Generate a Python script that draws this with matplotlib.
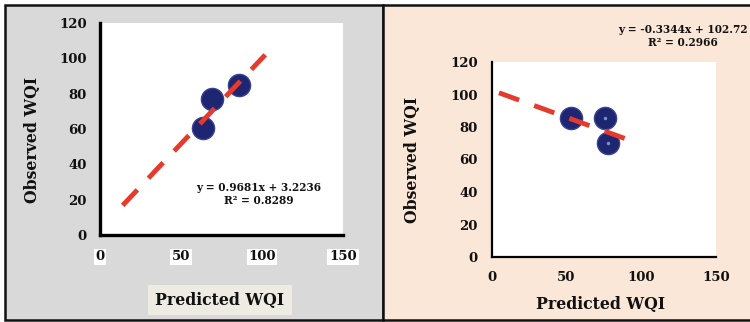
import matplotlib
matplotlib.use("Agg")
import matplotlib.pyplot as plt
from matplotlib.patches import Rectangle
import numpy as np

# ---- data ----
pred_a = [63.4, 69.3, 85.8]
obs_a = [60.7, 76.8, 84.9]
slope_a, icpt_a = 0.9681, 3.2236
trend_a_x = [14, 102]
eq_a = "y = 0.9681x + 3.2236\nR\u00b2 = 0.8289"

pred_b = [52.8, 76.0, 77.8]
obs_b = [85.4, 85.4, 70.3]
slope_b, icpt_b = -0.3344, 102.72
trend_b_x = [5, 91]
eq_b = "y = -0.3344x + 102.72\nR\u00b2 = 0.2966"

xticks = [0, 50, 100, 150]
yticks = [0, 20, 40, 60, 80, 100, 120]
xlabel = "Predicted WQI"
ylabel = "Observed WQI"

W, H = 750, 322
FONT = "DejaVu Serif"
navy = "#1e2672"
red = "#e53a2c"

fig = plt.figure(figsize=(W / 100, H / 100), dpi=100)
fig.patch.set_facecolor("white")

def fx(x):
    return x / W

def fy(y):
    return 1 - y / H

# panel backgrounds
fig.patches.append(Rectangle((fx(5), fy(320)), fx(383) - fx(5), fy(5) - fy(320),
                             transform=fig.transFigure, facecolor="#d9d9d9",
                             edgecolor="#111111", lw=1.8, zorder=-10))
fig.patches.append(Rectangle((fx(383), fy(320)), fx(760) - fx(383), fy(5) - fy(320),
                             transform=fig.transFigure, facecolor="#fbe7d8",
                             edgecolor="#111111", lw=1.8, zorder=-10))
# xlabel box in left panel
fig.patches.append(Rectangle((fx(148), fy(315)), fx(292) - fx(148), fy(285) - fy(315),
                             transform=fig.transFigure, facecolor="#eeece2",
                             edgecolor="none", zorder=-5))

def setup(ax, spine_lw, xpad, ypad, boxed):
    ax.set_facecolor("white")
    ax.set_xlim(0, 150)
    ax.set_ylim(0, 120)
    ax.set_xticks(xticks)
    ax.set_yticks(yticks)
    for s in ["top", "right"]:
        ax.spines[s].set_visible(False)
    for s in ["left", "bottom"]:
        ax.spines[s].set_linewidth(spine_lw)
        ax.spines[s].set_color("black")
    ax.tick_params(axis="x", length=0, pad=xpad)
    ax.tick_params(axis="y", length=0, pad=ypad)
    for lab in ax.get_xticklabels() + ax.get_yticklabels():
        lab.set_fontfamily(FONT)
        lab.set_fontweight("bold")
        lab.set_fontsize(9.5)
        lab.set_color("#111111")
    if boxed:
        for lab in ax.get_xticklabels():
            lab.set_bbox(dict(facecolor="white", edgecolor="none", pad=1.2))

DASH = (0, (4.4, 3.3))
MS = 255

ax1 = fig.add_axes([fx(100), fy(235), fx(343) - fx(100), fy(23) - fy(235)])
setup(ax1, 2.4, 11, 9.5, True)
ax1.scatter(pred_a, obs_a, s=MS, color=navy, edgecolors="#3a4390", linewidths=1.0, zorder=2)
tx = np.array(trend_a_x, dtype=float)
ax1.plot(tx, slope_a * tx + icpt_a, color=red, lw=3.5, linestyle=DASH,
         solid_capstyle="butt", dash_capstyle="butt", zorder=3)

ax2 = fig.add_axes([fx(491.5), fy(257), fx(716) - fx(491.5), fy(62) - fy(257)])
setup(ax2, 1.6, 10, 10, False)
ax2.scatter(pred_b, obs_b, s=MS, color=navy, edgecolors="#3a4390", linewidths=1.0, zorder=2)
ax2.scatter(pred_b, obs_b, s=6, color="#6d9ad0", linewidths=0, zorder=2.5)
tx = np.array(trend_b_x, dtype=float)
ax2.plot(tx, slope_b * tx + icpt_b, color=red, lw=3.5, linestyle=DASH,
         solid_capstyle="butt", dash_capstyle="butt", zorder=3)

lab_kw = dict(fontfamily=FONT, fontweight="bold", fontsize=11.3, color="#111111")
# axis labels
fig.text(fx(32), fy(139.5), ylabel, rotation=90, ha="center", va="center", **lab_kw)
fig.text(fx(413), fy(160), ylabel, rotation=90, ha="center", va="center", **lab_kw)
fig.text(fx(220), fy(300), xlabel, ha="center", va="center", zorder=2, **lab_kw)
fig.text(fx(600.5), fy(305), xlabel, ha="center", va="center", **lab_kw)

eq_kw = dict(fontfamily=FONT, fontweight="bold", fontsize=7.6, color="#111111",
             ha="center", va="center", multialignment="center", linespacing=1.15)
fig.text(fx(259), fy(194), eq_a, **eq_kw)
fig.text(fx(683), fy(36), eq_b, **eq_kw)

fig.savefig("out.png", dpi=100)
